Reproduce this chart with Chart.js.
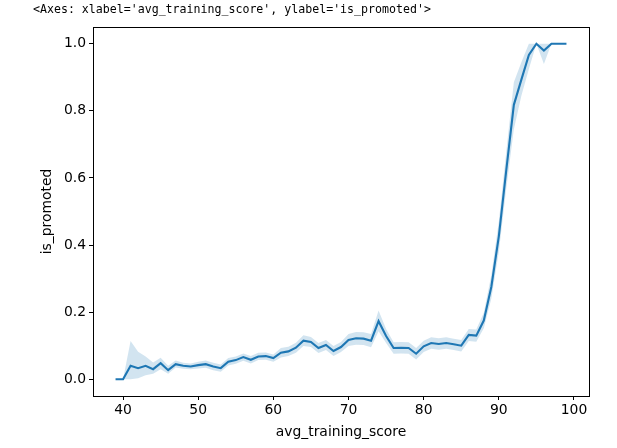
<!DOCTYPE html>
<html>
<head>
<meta charset="utf-8">
<script src="https://cdn.jsdelivr.net/npm/chart.js@4"></script>
<style>
html,body{margin:0;padding:0;background:#fff;}
#wrap{position:relative;width:617px;height:448px;}
#hdr{position:absolute;left:33px;top:2px;font-family:"DejaVu Sans Mono",monospace;font-size:11.6px;color:#000;white-space:pre;}
canvas{position:absolute;left:0;top:0;}
</style>
</head>
<body>
<div id="wrap">
<canvas id="c" width="617" height="448"></canvas>
<div id="hdr">&lt;Axes: xlabel='avg_training_score', ylabel='is_promoted'&gt;</div>
</div>
<script>
const scores = [39,40,41,42,43,44,45,46,47,48,49,50,51,52,53,54,55,56,57,58,59,60,61,62,63,64,65,66,67,68,69,70,71,72,73,74,75,76,77,78,79,80,81,82,83,84,85,86,87,88,89,90,91,92,93,94,95,96,97,98,99];
const promoted = [0,0,0.040,0.033,0.040,0.030,0.048,0.027,0.045,0.040,0.038,0.042,0.045,0.038,0.033,0.052,0.057,0.066,0.058,0.068,0.069,0.063,0.079,0.083,0.094,0.115,0.111,0.093,0.102,0.084,0.096,0.117,0.122,0.121,0.115,0.173,0.129,0.093,0.094,0.093,0.076,0.098,0.108,0.105,0.108,0.104,0.100,0.132,0.130,0.175,0.275,0.426,0.625,0.818,0.893,0.967,1.0,0.98,1.0,1.0,1.0];
const ciLower = [0,0,0.0,0.003,0.012,0.016,0.03,0.016,0.035,0.031,0.030,0.032,0.034,0.027,0.022,0.041,0.046,0.055,0.047,0.057,0.058,0.052,0.065,0.069,0.079,0.099,0.096,0.078,0.087,0.069,0.081,0.099,0.103,0.102,0.095,0.143,0.108,0.076,0.077,0.076,0.059,0.081,0.091,0.088,0.091,0.087,0.083,0.114,0.112,0.152,0.24,0.38,0.57,0.745,0.845,0.925,1,0.94,1,1,1];
const ciUpper = [0,0,0.114,0.082,0.068,0.05,0.064,0.04,0.056,0.049,0.047,0.052,0.056,0.049,0.044,0.063,0.068,0.077,0.069,0.079,0.080,0.074,0.093,0.097,0.109,0.131,0.126,0.108,0.117,0.099,0.111,0.135,0.141,0.140,0.135,0.205,0.150,0.110,0.111,0.110,0.093,0.115,0.125,0.122,0.125,0.121,0.117,0.150,0.148,0.198,0.31,0.47,0.68,0.885,0.945,1,1,1,1,1,1];
const xTicks = [40,50,60,70,80,90,100];
const yTicks = [0,0.2,0.4,0.6,0.8,1.0];

const pts = arr => scores.map((x,i)=>({x:x,y:arr[i]}));
const blue = '#1f77b4';
const font = {family:'"DejaVu Sans", sans-serif', size:13.9};

const frame = {
  id:'frame',
  afterDatasetsDraw(chart){
    const a = chart.chartArea, ctx = chart.ctx;
    ctx.save();
    ctx.strokeStyle = '#000';
    ctx.lineWidth = 1;
    ctx.strokeRect(Math.round(a.left)+0.5, Math.round(a.top)+0.5, Math.round(a.right-a.left), Math.round(a.bottom-a.top));
    ctx.restore();
  }
};

new Chart(document.getElementById('c'), {
  type:'line',
  data:{
    datasets:[
      {data:pts(ciLower), borderWidth:0, pointRadius:0, fill:false, backgroundColor:'rgba(31,119,180,0.2)', borderColor:'rgba(0,0,0,0)'},
      {data:pts(ciUpper), borderWidth:0, pointRadius:0, fill:'-1', backgroundColor:'rgba(31,119,180,0.2)', borderColor:'rgba(0,0,0,0)'},
      {data:pts(promoted), borderWidth:2.1, pointRadius:0, fill:false, borderColor:blue, tension:0}
    ]
  },
  options:{
    responsive:false,
    animation:false,
    events:[],
    layout:{padding:{top:27,right:28,left:0,bottom:0}},
    plugins:{legend:{display:false}, tooltip:{enabled:false}, title:{display:false}},
    scales:{
      x:{
        type:'linear', min:36, max:102,
        afterBuildTicks(s){ s.ticks = xTicks.map(v=>({value:v})); },
        afterFit(s){ s.height = 52; },
        ticks:{color:'#000', font:font, padding:2, maxRotation:0, callback:v=>String(v)},
        grid:{display:true, drawOnChartArea:false, drawTicks:true, tickLength:4, color:'#000'},
        border:{display:true, color:'#000'},
        title:{display:true, text:'avg_training_score', color:'#000', font:font, padding:{top:0,bottom:7}}
      },
      y:{
        type:'linear', min:-0.05, max:1.05,
        afterBuildTicks(s){ s.ticks = yTicks.map(v=>({value:v})); },
        afterFit(s){ s.width = 93; },
        ticks:{color:'#000', font:font, padding:3, callback:v=>v.toFixed(1)},
        grid:{display:true, drawOnChartArea:false, drawTicks:true, tickLength:4, color:'#000'},
        border:{display:true, color:'#000'},
        title:{display:true, text:'is_promoted', color:'#000', font:font, padding:{top:39,bottom:0}}
      }
    }
  },
  plugins:[frame]
});
</script>
</body>
</html>
